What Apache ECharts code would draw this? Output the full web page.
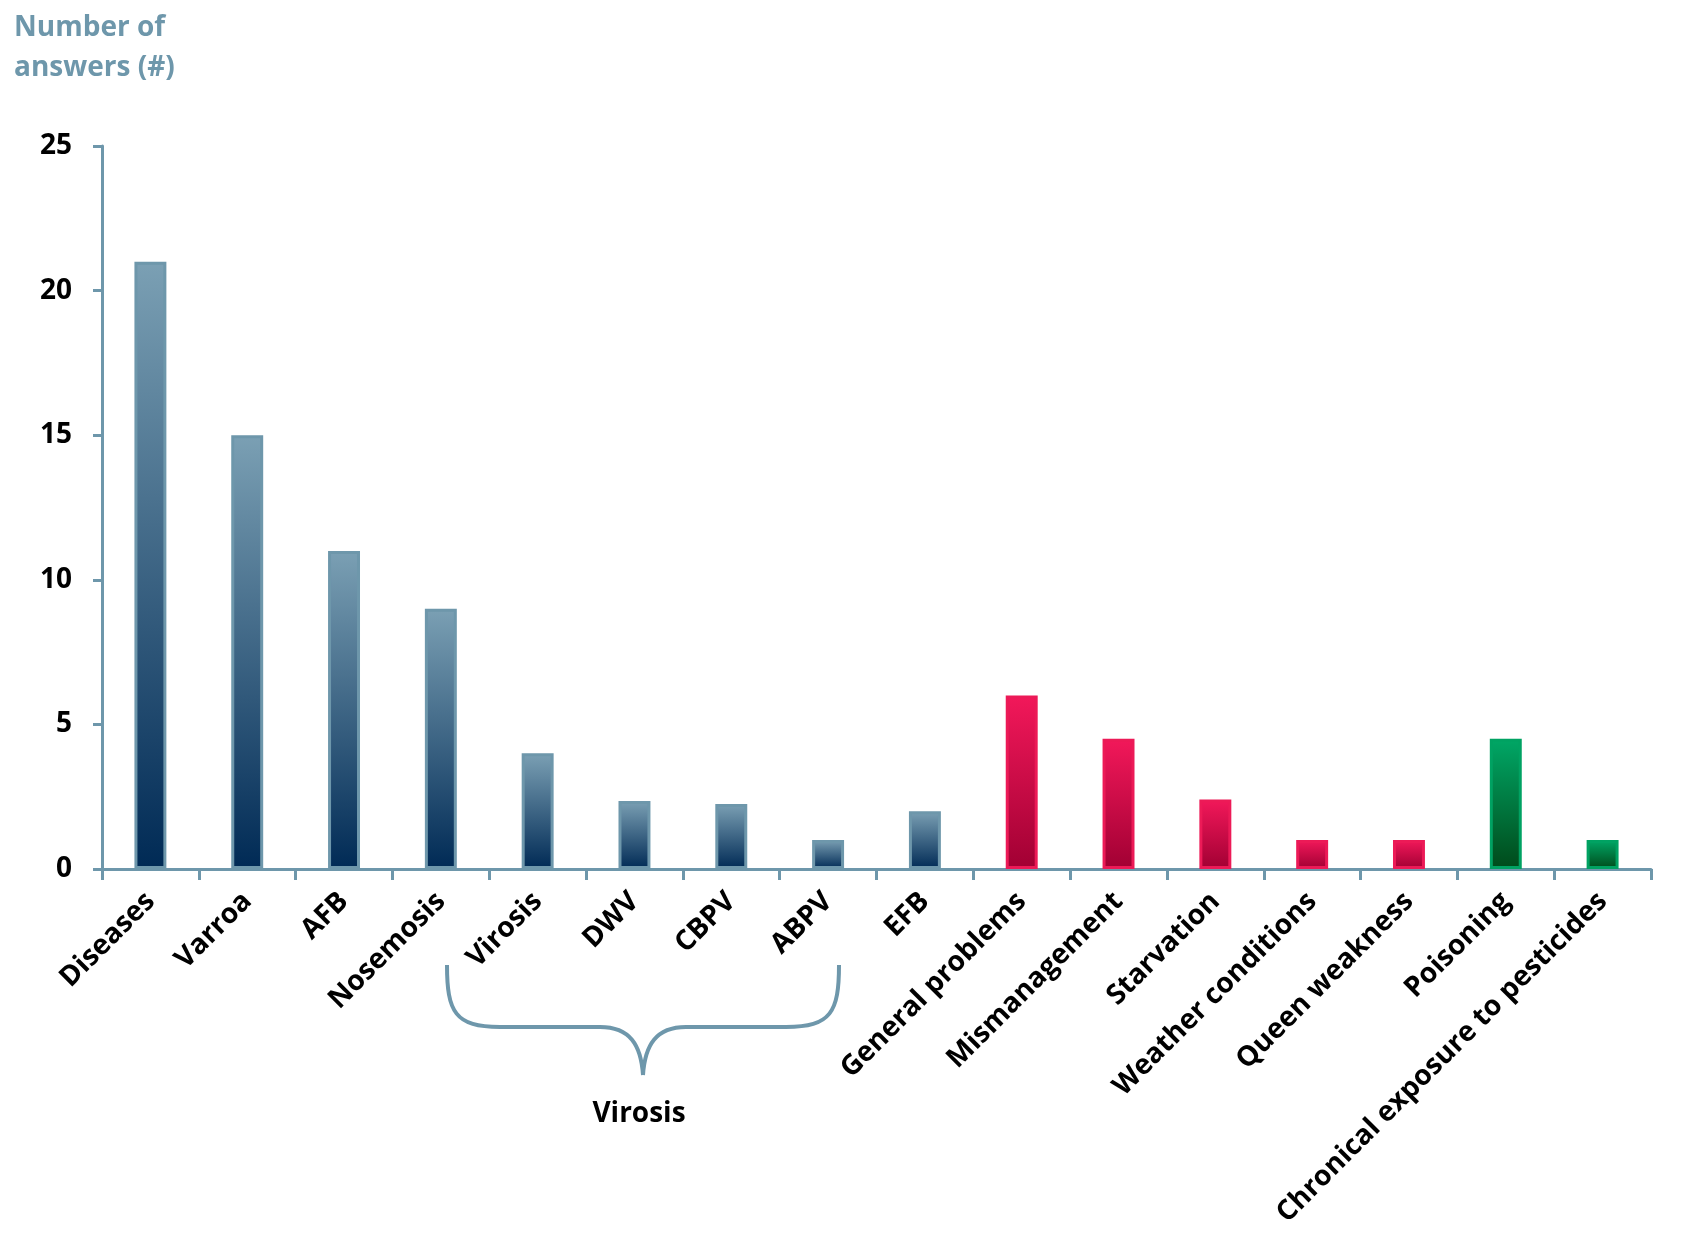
<!DOCTYPE html>
<html>
<head>
<meta charset="utf-8">
<script src="https://cdn.jsdelivr.net/npm/echarts@6/dist/echarts.min.js"></script>
<style>html,body{margin:0;padding:0;background:#fff;}#c{width:1689px;height:1249px;}</style>
</head>
<body>
<div id="c"></div>
<script>
var categories = ['Diseases','Varroa','AFB','Nosemosis','Virosis','DWV','CBPV','ABPV','EFB','General problems','Mismanagement','Starvation','Weather conditions','Queen weakness','Poisoning','Chronical exposure to pesticides'];
var values = [21, 15, 11, 9, 4, 2.35, 2.25, 1, 2, 6, 4.5, 2.4, 1, 1, 4.5, 1];
var groups = ['blue','blue','blue','blue','blue','blue','blue','blue','blue','red','red','red','red','red','green','green'];
var yTicks = [0, 5, 10, 15, 20, 25];

var palette = {
  blue: {top:'#7ba0b4', bottom:'#002a55', border:'#6e97ab'},
  red: {top:'#f2185a', bottom:'#a10033', border:'#ec1a57'},
  green: {top:'#00a766', bottom:'#004a1a', border:'#00a262'}
};
var FONT = 'Open Sans';
var BR = '#6e97ab';
var chart = echarts.init(document.getElementById('c'));
var data = values.map(function(v, i){
  var p = palette[groups[i]];
  return {value: v, itemStyle: {
    color: {type:'linear', x:0, y:0, x2:0, y2:1, colorStops:[{offset:0,color:p.top},{offset:1,color:p.bottom}]},
    borderColor: p.border, borderWidth: 3
  }};
});
function seg(shape, t){ return {type: t, shape: shape, style:{fill:'none', stroke:BR, lineWidth:4}}; }
chart.setOption({
  animation: false,
  backgroundColor: '#fff',
  grid: {left: 102, right: 38, top: 146, bottom: 380, containLabel: false},
  graphic: [
    {type:'text', x: 14, y: 8, style:{text:'Number of\nanswers (#)', fill:BR, font:'bold 28px "Open Sans"', lineHeight: 40}},
    seg({x1:447,y1:965,cpx1:447,cpy1:1012,cpx2:455,cpy2:1027,x2:500,y2:1027},'bezierCurve'),
    seg({x1:500,y1:1027,x2:600,y2:1027},'line'),
    seg({x1:600,y1:1027,cpx1:630,cpy1:1027,cpx2:641,cpy2:1045,x2:643,y2:1075},'bezierCurve'),
    seg({x1:643,y1:1075,cpx1:645,cpy1:1045,cpx2:656,cpy2:1027,x2:686,y2:1027},'bezierCurve'),
    seg({x1:686,y1:1027,x2:786,y2:1027},'line'),
    seg({x1:786,y1:1027,cpx1:831,cpy1:1027,cpx2:839,cpy2:1012,x2:839,y2:965},'bezierCurve'),
    {type:'text', x: 639, y: 1114, style:{text:'Virosis', fill:'#000', font:'bold 28px "Open Sans"', align:'center', verticalAlign:'middle'}}
  ],
  xAxis: {
    type: 'category', data: categories, boundaryGap: true,
    axisLine: {lineStyle: {color:BR, width: 3}},
    axisTick: {show: true, length: 11, lineStyle: {color:BR, width: 3}},
    axisLabel: {rotate: 45, interval: 0, margin: 28, color:'#000', fontFamily: FONT, fontWeight:'bold', fontSize: 28}
  },
  yAxis: {
    type: 'value', min: 0, max: 25, interval: 5,
    splitLine: {show: false},
    axisLine: {show: true, lineStyle: {color:BR, width: 3}},
    axisTick: {show: true, length: 9, lineStyle: {color:BR, width: 3}},
    axisLabel: {margin: 30, color:'#000', fontFamily: FONT, fontWeight:'bold', fontSize: 28,
      formatter: function(v){ return yTicks.indexOf(v) >= 0 ? String(v) : ''; }}
  },
  series: [{type:'bar', data: data, barWidth: '33%'}]
});
</script>
</body>
</html>
